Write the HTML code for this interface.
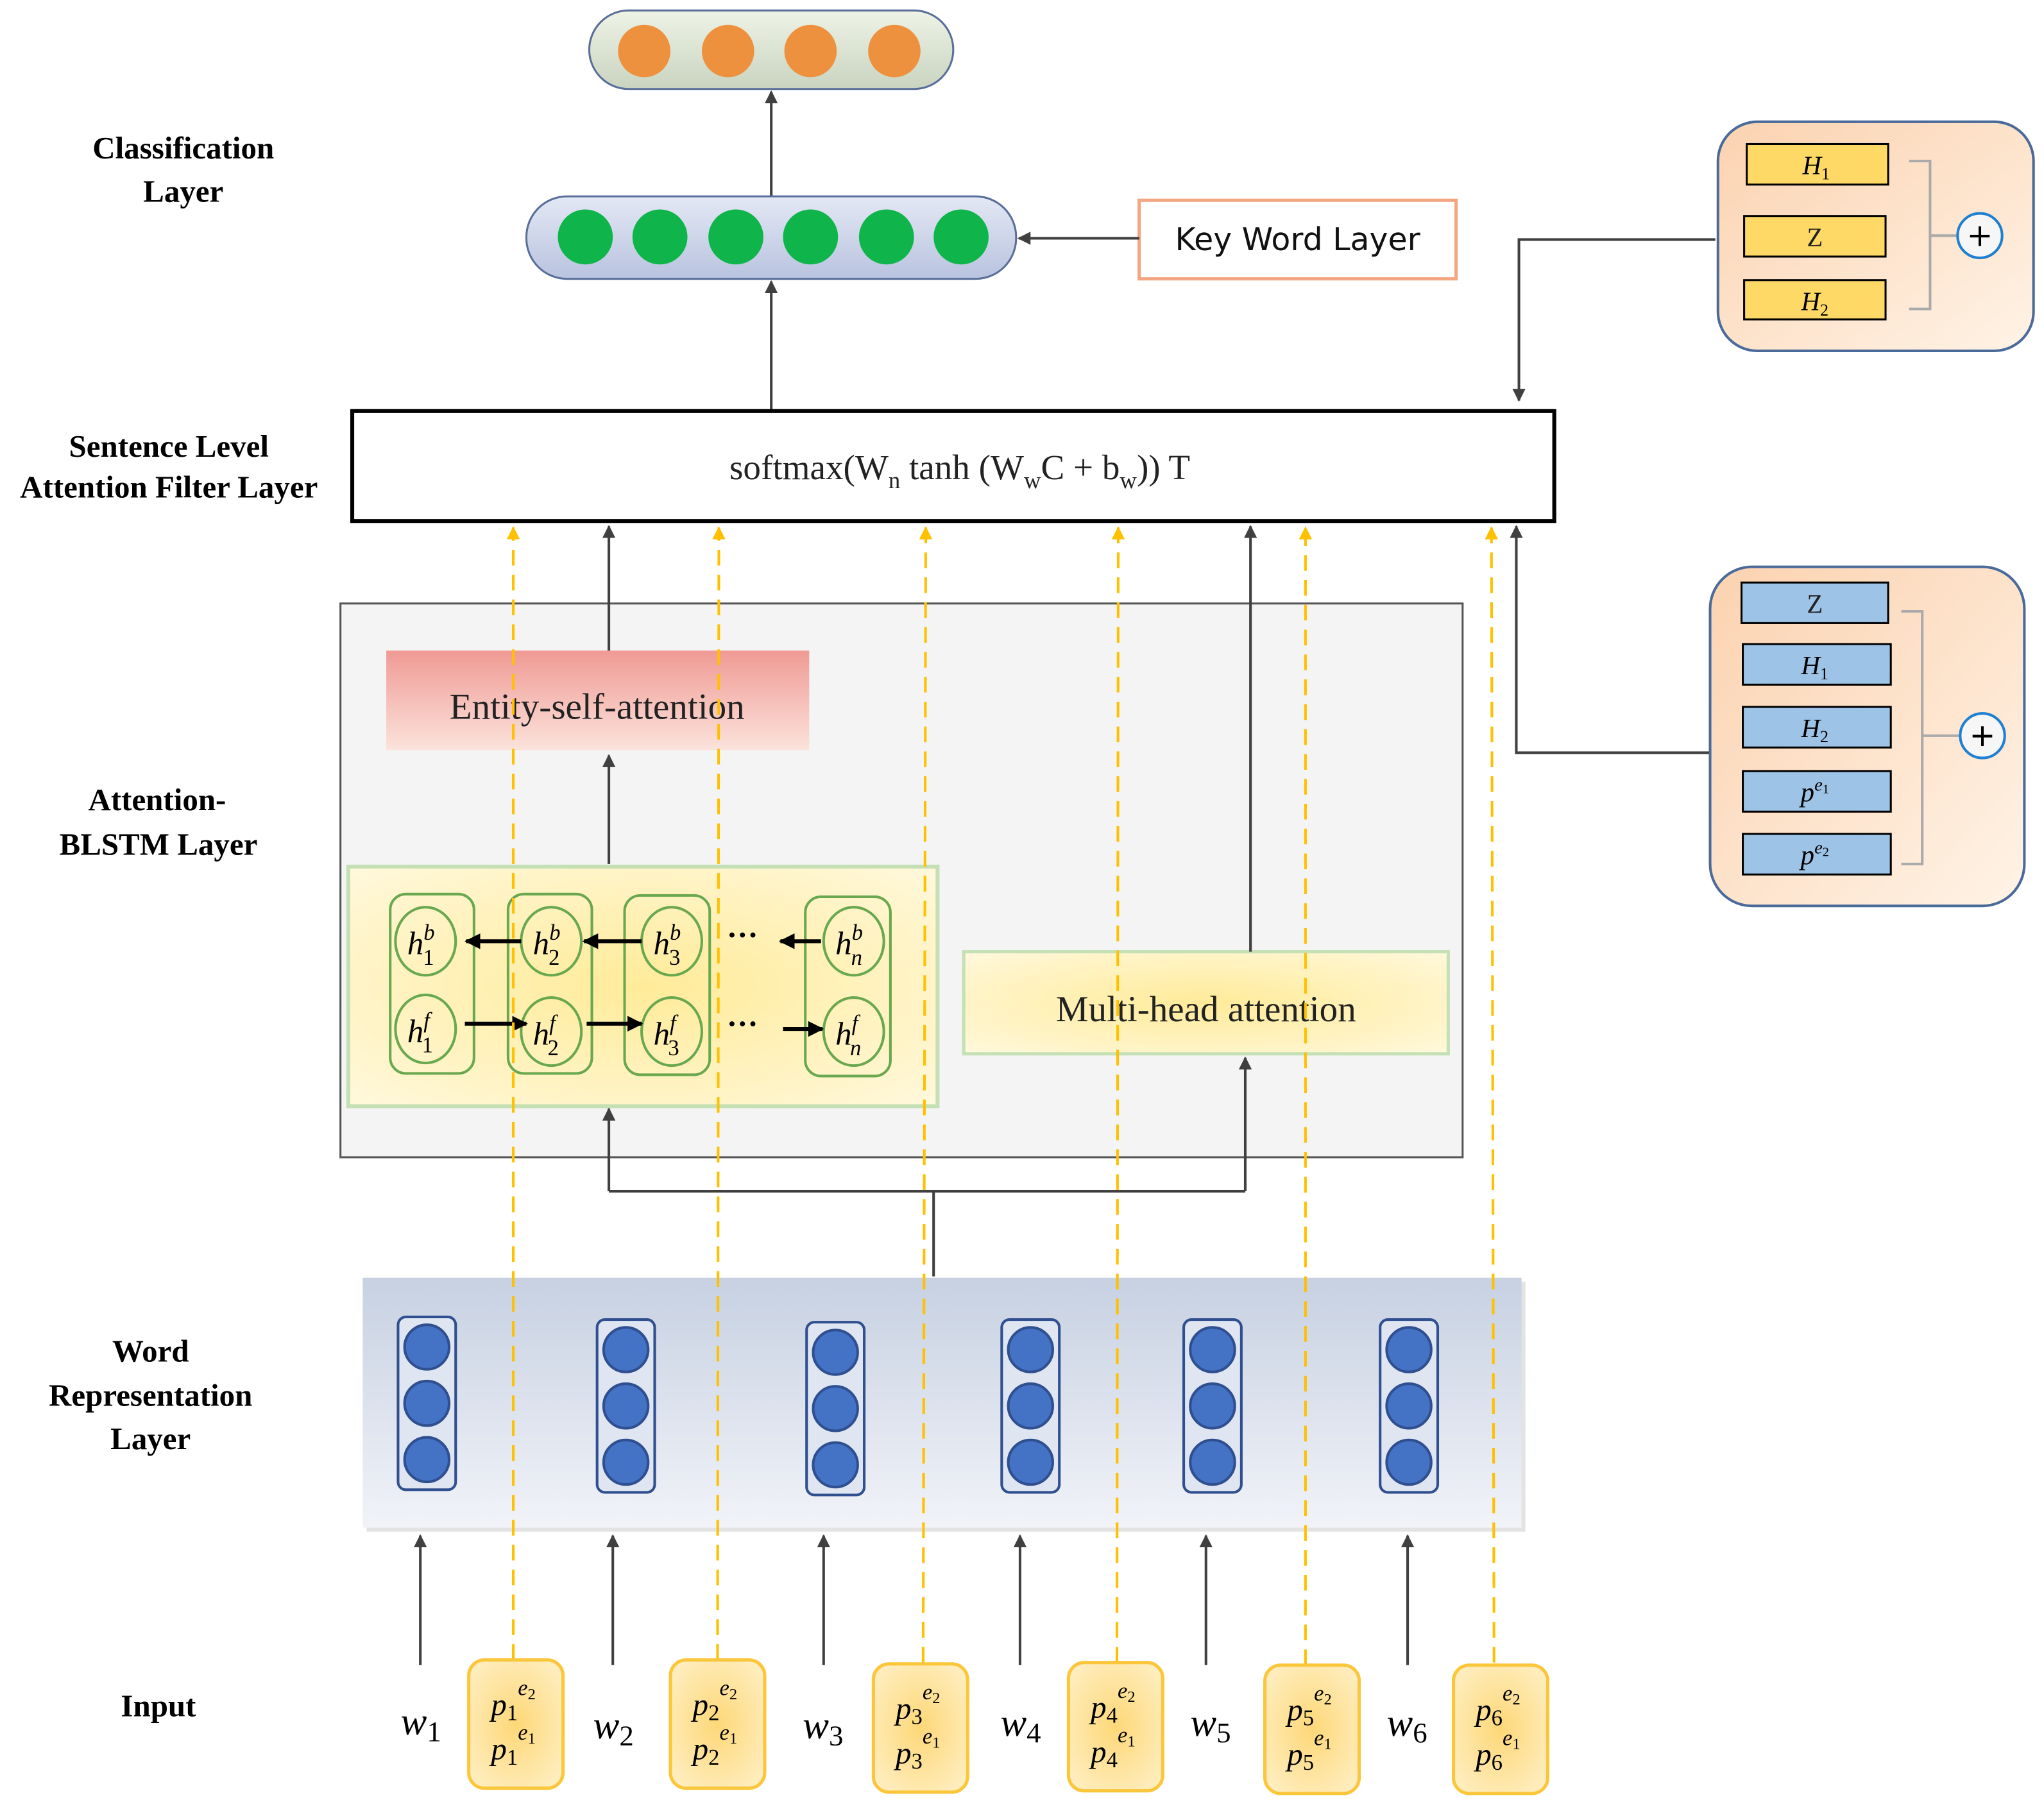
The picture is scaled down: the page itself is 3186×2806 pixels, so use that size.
<!DOCTYPE html>
<html><head><meta charset="utf-8"><style>
html,body{margin:0;padding:0;background:#fff;}
svg{display:block;}
.lab{font-family:"Liberation Serif",serif;font-weight:bold;font-size:24px;fill:#000;text-anchor:middle;}
.ser{font-family:"Liberation Serif",serif;fill:#222;}
.it{font-family:"Liberation Serif",serif;font-style:italic;fill:#000;}
</style></head><body>
<svg width="3186" height="2806" viewBox="0 0 1561 1375" preserveAspectRatio="none" xmlns="http://www.w3.org/2000/svg">
<defs>
<marker id="ah" viewBox="0 0 10 10" refX="9" refY="5" markerWidth="5" markerHeight="5" orient="auto"><path d="M0,0L10,5L0,10z" fill="#404040"/></marker>
<marker id="ay" viewBox="0 0 10 10" refX="9" refY="5" markerWidth="5" markerHeight="5" orient="auto"><path d="M0,0L10,5L0,10z" fill="#ffc000"/></marker>
<marker id="ab" viewBox="0 0 10 10" refX="9" refY="5" markerWidth="4" markerHeight="4" orient="auto"><path d="M0,0L10,5L0,10z" fill="#000"/></marker>
<linearGradient id="cap" x1="0" y1="0" x2="0" y2="1"><stop offset="0" stop-color="#e3e8f4"/><stop offset="1" stop-color="#b9c3df"/></linearGradient>
<linearGradient id="cap2" x1="0" y1="0" x2="0" y2="1"><stop offset="0" stop-color="#eef3e6"/><stop offset="1" stop-color="#c9d4c0"/></linearGradient>
<linearGradient id="peach" x1="0" y1="0" x2="1" y2="1"><stop offset="0" stop-color="#fbd2b0"/><stop offset="1" stop-color="#fff3e6"/></linearGradient>
<linearGradient id="ent" x1="0" y1="0" x2="0" y2="1"><stop offset="0" stop-color="#f09a94"/><stop offset="1" stop-color="#fbe3dc"/></linearGradient>
<radialGradient id="yel" cx="0.5" cy="0.5" r="0.7"><stop offset="0" stop-color="#ffeb99"/><stop offset="1" stop-color="#fff8dc"/></radialGradient>
<radialGradient id="pb" cx="0.5" cy="0.5" r="0.7"><stop offset="0" stop-color="#fdd878"/><stop offset="1" stop-color="#fff0c8"/></radialGradient>
<linearGradient id="wr" x1="0" y1="0" x2="0" y2="1"><stop offset="0" stop-color="#c7d1e2"/><stop offset="1" stop-color="#f1f3f8"/></linearGradient>
</defs>

<text class="lab" x="140" y="121">Classification</text>
<text class="lab" x="140" y="154">Layer</text>
<text class="lab" x="129" y="349">Sentence Level</text>
<text class="lab" x="129" y="380">Attention Filter Layer</text>
<text class="lab" x="120" y="619">Attention-</text>
<text class="lab" x="121" y="653">BLSTM Layer</text>
<text class="lab" x="115" y="1040">Word</text>
<text class="lab" x="115" y="1074">Representation</text>
<text class="lab" x="115" y="1107">Layer</text>
<text class="lab" x="121" y="1311">Input</text>

<rect x="450" y="8" width="278" height="60" rx="30" fill="url(#cap2)" stroke="#5a6e9a" stroke-width="1.5"/>
<g fill="#ee913e"><circle cx="492" cy="39" r="20"/><circle cx="556" cy="39" r="20"/><circle cx="619" cy="39" r="20"/><circle cx="683" cy="39" r="20"/></g>
<line x1="589" y1="150" x2="589" y2="70" stroke="#404040" stroke-width="2" marker-end="url(#ah)"/>

<rect x="402" y="150" width="374" height="63" rx="31" fill="url(#cap)" stroke="#5a6e9a" stroke-width="1.5"/>
<g fill="#0fb54a"><circle cx="447" cy="181" r="21"/><circle cx="504" cy="181" r="21"/><circle cx="562" cy="181" r="21"/><circle cx="619" cy="181" r="21"/><circle cx="677" cy="181" r="21"/><circle cx="734" cy="181" r="21"/></g>
<line x1="589" y1="313" x2="589" y2="215" stroke="#404040" stroke-width="2" marker-end="url(#ah)"/>

<rect x="870" y="153" width="242" height="60" fill="#fff" stroke="#f4a582" stroke-width="2.5"/>
<text x="991" y="191" font-family="DejaVu Sans,sans-serif" font-size="24" text-anchor="middle" fill="#111">Key Word Layer</text>
<line x1="870" y1="182" x2="778" y2="182" stroke="#404040" stroke-width="2" marker-end="url(#ah)"/>

<rect x="1312" y="93" width="241" height="175" rx="30" fill="url(#peach)" stroke="#4a6a9a" stroke-width="2"/>
<g stroke="#000" stroke-width="1.5" fill="#ffd966">
<rect x="1334" y="110" width="108" height="31"/><rect x="1332" y="165" width="108" height="31"/><rect x="1332" y="214" width="108" height="30"/></g>
<text class="it" x="1387" y="133" font-size="20" text-anchor="middle">H<tspan font-size="13" dy="4" font-style="normal">1</tspan></text>
<text class="ser" x="1386" y="188" font-size="20" text-anchor="middle" fill="#000">Z</text>
<text class="it" x="1386" y="237" font-size="20" text-anchor="middle">H<tspan font-size="13" dy="4" font-style="normal">2</tspan></text>
<path d="M1458,123H1474V236H1458M1474,180H1494" fill="none" stroke="#aaa" stroke-width="2"/>
<circle cx="1512" cy="180" r="17" fill="#f6f6f6" stroke="#1f7fd0" stroke-width="2"/>
<text x="1512" y="188" font-family="DejaVu Sans,sans-serif" font-size="24" text-anchor="middle" fill="#000">+</text>
<path d="M1310,183H1160V306" fill="none" stroke="#404040" stroke-width="2" marker-end="url(#ah)"/>

<rect x="269" y="314" width="918" height="84" fill="#fff" stroke="#000" stroke-width="3"/>
<text class="ser" x="733" y="366" font-size="27" text-anchor="middle">softmax(W<tspan font-size="18" dy="7">n</tspan><tspan dy="-7"> tanh (W</tspan><tspan font-size="18" dy="7">w</tspan><tspan dy="-7">C + b</tspan><tspan font-size="18" dy="7">w</tspan><tspan dy="-7">))  T</tspan></text>

<rect x="260" y="461" width="857" height="423" fill="#f4f4f4" stroke="#555" stroke-width="1.5"/>
<rect x="295" y="497" width="323" height="76" fill="url(#ent)"/>
<text class="ser" x="456" y="549" font-size="28" text-anchor="middle" fill="#111">Entity-self-attention</text>
<line x1="465" y1="660" x2="465" y2="577" stroke="#404040" stroke-width="2" marker-end="url(#ah)"/>
<line x1="465" y1="497" x2="465" y2="402" stroke="#404040" stroke-width="2" marker-end="url(#ah)"/>

<rect x="266" y="662" width="450" height="183" fill="url(#yel)" stroke="#c5e0b4" stroke-width="3"/>
<g fill="none" stroke="#6aa84f" stroke-width="2">
<rect x="298" y="683" width="64" height="137" rx="12"/><rect x="388" y="683" width="64" height="137" rx="12"/><rect x="477" y="684" width="65" height="137" rx="12"/><rect x="615" y="685" width="65" height="137" rx="12"/>
<ellipse cx="325" cy="719" rx="23" ry="26"/><ellipse cx="325" cy="786" rx="23" ry="26"/>
<ellipse cx="421" cy="719" rx="23" ry="26"/><ellipse cx="421" cy="788" rx="23" ry="26"/>
<ellipse cx="513" cy="719" rx="23" ry="26"/><ellipse cx="513" cy="788" rx="23" ry="26"/>
<ellipse cx="652" cy="719" rx="23" ry="26"/><ellipse cx="652" cy="788" rx="23" ry="26"/>
</g>
<g class="it" font-size="25">
<text x="311" y="729">h<tspan font-size="17" dy="-11">b</tspan><tspan font-size="17" dx="-9" dy="19" font-style="normal">1</tspan></text>
<text x="407" y="729">h<tspan font-size="17" dy="-11">b</tspan><tspan font-size="17" dx="-9" dy="19" font-style="normal">2</tspan></text>
<text x="499" y="729">h<tspan font-size="17" dy="-11">b</tspan><tspan font-size="17" dx="-9" dy="19" font-style="normal">3</tspan></text>
<text x="638" y="729">h<tspan font-size="17" dy="-11">b</tspan><tspan font-size="17" dx="-9" dy="19">n</tspan></text>
<text x="311" y="796">h<tspan font-size="17" dy="-11">f</tspan><tspan font-size="17" dx="-6" dy="19" font-style="normal">1</tspan></text>
<text x="407" y="798">h<tspan font-size="17" dy="-11">f</tspan><tspan font-size="17" dx="-6" dy="19" font-style="normal">2</tspan></text>
<text x="499" y="798">h<tspan font-size="17" dy="-11">f</tspan><tspan font-size="17" dx="-6" dy="19" font-style="normal">3</tspan></text>
<text x="638" y="798">h<tspan font-size="17" dy="-11">f</tspan><tspan font-size="17" dx="-6" dy="19">n</tspan></text>
</g>
<g stroke="#000" stroke-width="3">
<line x1="398" y1="719" x2="356" y2="719" marker-end="url(#ab)"/>
<line x1="490" y1="719" x2="446" y2="719" marker-end="url(#ab)"/>
<line x1="627" y1="719" x2="596" y2="719" marker-end="url(#ab)"/>
<line x1="355" y1="782" x2="402" y2="782" marker-end="url(#ab)"/>
<line x1="448" y1="782" x2="490" y2="782" marker-end="url(#ab)"/>
<line x1="598" y1="786" x2="628" y2="786" marker-end="url(#ab)"/>
</g>
<text x="567" y="722" font-family="Liberation Serif,serif" font-size="24" font-weight="bold" text-anchor="middle">···</text>
<text x="567" y="790" font-family="Liberation Serif,serif" font-size="24" font-weight="bold" text-anchor="middle">···</text>

<rect x="736" y="727" width="370" height="78" fill="url(#yel)" stroke="#c5e0b4" stroke-width="2.5"/>
<text class="ser" x="921" y="780" font-size="28" text-anchor="middle" fill="#111">Multi-head attention</text>
<line x1="955" y1="727" x2="955" y2="402" stroke="#404040" stroke-width="2" marker-end="url(#ah)"/>

<path d="M713,975V910M465,910H951" fill="none" stroke="#404040" stroke-width="2"/>
<line x1="465" y1="910" x2="465" y2="847" stroke="#404040" stroke-width="2" marker-end="url(#ah)"/>
<line x1="951" y1="910" x2="951" y2="808" stroke="#404040" stroke-width="2" marker-end="url(#ah)"/>

<rect x="1306" y="433" width="240" height="259" rx="32" fill="url(#peach)" stroke="#4a6a9a" stroke-width="2"/>
<g stroke="#000" stroke-width="1.5" fill="#9dc3e6">
<rect x="1330" y="445" width="112" height="31"/><rect x="1331" y="492" width="113" height="31"/><rect x="1331" y="540" width="113" height="31"/><rect x="1331" y="589" width="113" height="31"/><rect x="1331" y="637" width="113" height="31"/></g>
<text class="ser" x="1386" y="468" font-size="20" text-anchor="middle" fill="#000">Z</text>
<text class="it" x="1386" y="515" font-size="20" text-anchor="middle">H<tspan font-size="13" dy="4" font-style="normal">1</tspan></text>
<text class="it" x="1386" y="563" font-size="20" text-anchor="middle">H<tspan font-size="13" dy="4" font-style="normal">2</tspan></text>
<text class="it" x="1386" y="612" font-size="21" text-anchor="middle">p<tspan font-size="14" dy="-8">e</tspan><tspan font-size="10" dy="2" font-style="normal">1</tspan></text>
<text class="it" x="1386" y="660" font-size="21" text-anchor="middle">p<tspan font-size="14" dy="-8">e</tspan><tspan font-size="10" dy="2" font-style="normal">2</tspan></text>
<path d="M1452,467H1468V660H1452M1468,562H1496" fill="none" stroke="#aaa" stroke-width="2"/>
<circle cx="1514" cy="562" r="17" fill="#f6f6f6" stroke="#1f7fd0" stroke-width="2"/>
<text x="1514" y="570" font-family="DejaVu Sans,sans-serif" font-size="24" text-anchor="middle" fill="#000">+</text>
<path d="M1305,575H1158V402" fill="none" stroke="#404040" stroke-width="2" marker-end="url(#ah)"/>

<rect x="280" y="979" width="885" height="191" fill="#d0d0d0" opacity="0.6"/>
<rect x="277" y="976" width="885" height="191" fill="url(#wr)"/>
<g stroke="#2f4f8f" stroke-width="2">
<g transform="translate(326,0)"><rect x="-22" y="1006" width="44" height="132" rx="6" fill="#dfe6f2"/><circle cy="1029" r="17" fill="#4472c4"/><circle cy="1072" r="17" fill="#4472c4"/><circle cy="1115" r="17" fill="#4472c4"/></g>
<g transform="translate(478,2)"><rect x="-22" y="1006" width="44" height="132" rx="6" fill="#dfe6f2"/><circle cy="1029" r="17" fill="#4472c4"/><circle cy="1072" r="17" fill="#4472c4"/><circle cy="1115" r="17" fill="#4472c4"/></g>
<g transform="translate(638,4)"><rect x="-22" y="1006" width="44" height="132" rx="6" fill="#dfe6f2"/><circle cy="1029" r="17" fill="#4472c4"/><circle cy="1072" r="17" fill="#4472c4"/><circle cy="1115" r="17" fill="#4472c4"/></g>
<g transform="translate(787,2)"><rect x="-22" y="1006" width="44" height="132" rx="6" fill="#dfe6f2"/><circle cy="1029" r="17" fill="#4472c4"/><circle cy="1072" r="17" fill="#4472c4"/><circle cy="1115" r="17" fill="#4472c4"/></g>
<g transform="translate(926,2)"><rect x="-22" y="1006" width="44" height="132" rx="6" fill="#dfe6f2"/><circle cy="1029" r="17" fill="#4472c4"/><circle cy="1072" r="17" fill="#4472c4"/><circle cy="1115" r="17" fill="#4472c4"/></g>
<g transform="translate(1076,2)"><rect x="-22" y="1006" width="44" height="132" rx="6" fill="#dfe6f2"/><circle cy="1029" r="17" fill="#4472c4"/><circle cy="1072" r="17" fill="#4472c4"/><circle cy="1115" r="17" fill="#4472c4"/></g>
</g>

<g stroke="#ffc000" stroke-width="2" stroke-dasharray="12,7" fill="none">
<line x1="392" y1="1268" x2="392" y2="403" marker-end="url(#ay)"/>
<line x1="548" y1="1268" x2="549" y2="403" marker-end="url(#ay)"/>
<line x1="705" y1="1270" x2="707" y2="403" marker-end="url(#ay)"/>
<line x1="853" y1="1270" x2="854" y2="403" marker-end="url(#ay)"/>
<line x1="997" y1="1272" x2="997" y2="403" marker-end="url(#ay)"/>
<line x1="1141" y1="1270" x2="1139" y2="403" marker-end="url(#ay)"/>
</g>

<g stroke="#404040" stroke-width="2">
<line x1="321" y1="1272" x2="321" y2="1173" marker-end="url(#ah)"/>
<line x1="468" y1="1272" x2="468" y2="1173" marker-end="url(#ah)"/>
<line x1="629" y1="1272" x2="629" y2="1173" marker-end="url(#ah)"/>
<line x1="779" y1="1272" x2="779" y2="1173" marker-end="url(#ah)"/>
<line x1="921" y1="1272" x2="921" y2="1173" marker-end="url(#ah)"/>
<line x1="1075" y1="1272" x2="1075" y2="1173" marker-end="url(#ah)"/>
</g>
<g class="it" font-size="30">
<text x="306" y="1325">w<tspan font-size="22" font-style="normal" dy="5">1</tspan></text>
<text x="453" y="1328">w<tspan font-size="22" font-style="normal" dy="5">2</tspan></text>
<text x="613" y="1328">w<tspan font-size="22" font-style="normal" dy="5">3</tspan></text>
<text x="764" y="1326">w<tspan font-size="22" font-style="normal" dy="5">4</tspan></text>
<text x="909" y="1326">w<tspan font-size="22" font-style="normal" dy="5">5</tspan></text>
<text x="1059" y="1326">w<tspan font-size="22" font-style="normal" dy="5">6</tspan></text>
</g>
<g stroke="#fcc63b" stroke-width="2.5" fill="url(#pb)">
<rect x="358" y="1268" width="72" height="98" rx="12"/>
<rect x="512" y="1268" width="72" height="98" rx="12"/>
<rect x="667" y="1271" width="72" height="98" rx="12"/>
<rect x="816" y="1270" width="72" height="98" rx="12"/>
<rect x="966" y="1272" width="72" height="98" rx="12"/>
<rect x="1110" y="1272" width="72" height="98" rx="12"/>
</g>
<g class="it" font-size="24">
<text x="375" y="1310">p<tspan font-size="17" font-style="normal" dy="4">1</tspan><tspan font-size="17" dy="-19">e</tspan><tspan font-size="12" font-style="normal" dy="3">2</tspan></text>
<text x="375" y="1344">p<tspan font-size="17" font-style="normal" dy="4">1</tspan><tspan font-size="17" dy="-19">e</tspan><tspan font-size="12" font-style="normal" dy="3">1</tspan></text>
<text x="529" y="1310">p<tspan font-size="17" font-style="normal" dy="4">2</tspan><tspan font-size="17" dy="-19">e</tspan><tspan font-size="12" font-style="normal" dy="3">2</tspan></text>
<text x="529" y="1344">p<tspan font-size="17" font-style="normal" dy="4">2</tspan><tspan font-size="17" dy="-19">e</tspan><tspan font-size="12" font-style="normal" dy="3">1</tspan></text>
<text x="684" y="1313">p<tspan font-size="17" font-style="normal" dy="4">3</tspan><tspan font-size="17" dy="-19">e</tspan><tspan font-size="12" font-style="normal" dy="3">2</tspan></text>
<text x="684" y="1347">p<tspan font-size="17" font-style="normal" dy="4">3</tspan><tspan font-size="17" dy="-19">e</tspan><tspan font-size="12" font-style="normal" dy="3">1</tspan></text>
<text x="833" y="1312">p<tspan font-size="17" font-style="normal" dy="4">4</tspan><tspan font-size="17" dy="-19">e</tspan><tspan font-size="12" font-style="normal" dy="3">2</tspan></text>
<text x="833" y="1346">p<tspan font-size="17" font-style="normal" dy="4">4</tspan><tspan font-size="17" dy="-19">e</tspan><tspan font-size="12" font-style="normal" dy="3">1</tspan></text>
<text x="983" y="1314">p<tspan font-size="17" font-style="normal" dy="4">5</tspan><tspan font-size="17" dy="-19">e</tspan><tspan font-size="12" font-style="normal" dy="3">2</tspan></text>
<text x="983" y="1348">p<tspan font-size="17" font-style="normal" dy="4">5</tspan><tspan font-size="17" dy="-19">e</tspan><tspan font-size="12" font-style="normal" dy="3">1</tspan></text>
<text x="1127" y="1314">p<tspan font-size="17" font-style="normal" dy="4">6</tspan><tspan font-size="17" dy="-19">e</tspan><tspan font-size="12" font-style="normal" dy="3">2</tspan></text>
<text x="1127" y="1348">p<tspan font-size="17" font-style="normal" dy="4">6</tspan><tspan font-size="17" dy="-19">e</tspan><tspan font-size="12" font-style="normal" dy="3">1</tspan></text>
</g>
</svg>
</body></html>
